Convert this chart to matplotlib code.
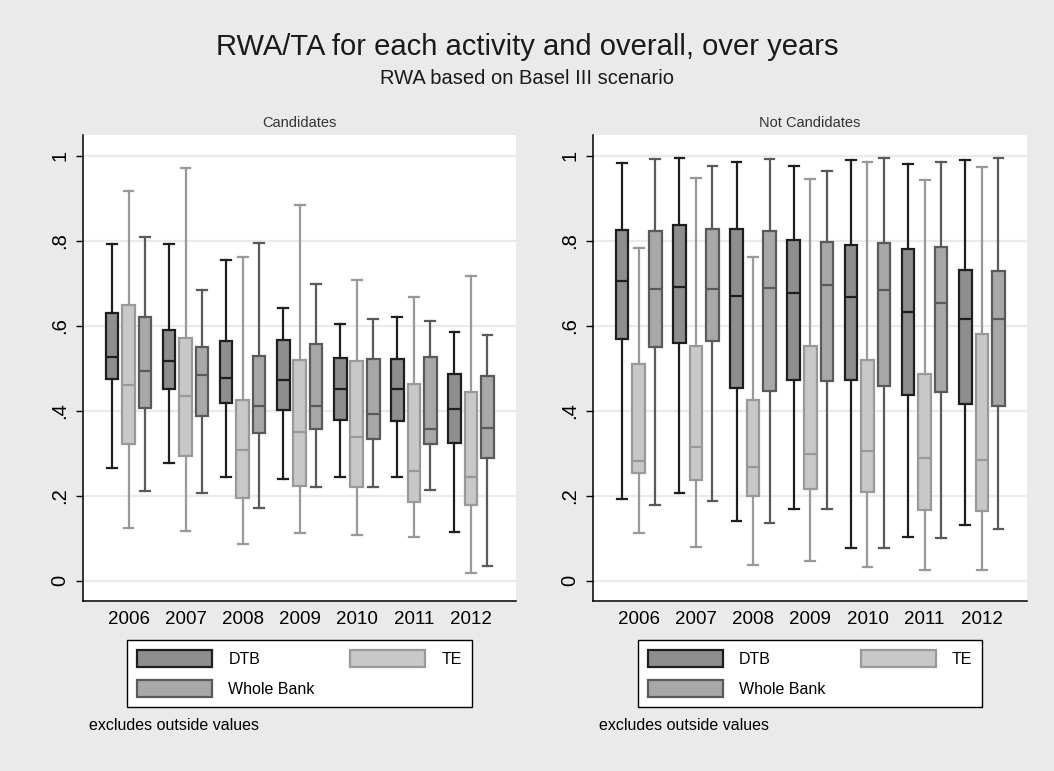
import matplotlib
matplotlib.use('Agg')
import matplotlib.pyplot as plt
from matplotlib.patches import Patch

plt.rcParams['font.family'] = ['Liberation Sans', 'DejaVu Sans']

years = ['2006', '2007', '2008', '2009', '2010', '2011', '2012']
yticks = [0, 0.2, 0.4, 0.6, 0.8, 1.0]
ylabels = ['0', '.2', '.4', '.6', '.8', '1']

# each row: lower whisker, q1, median, q3, upper whisker
cand_dtb = [[0.265, 0.475, 0.527, 0.630, 0.792],
            [0.278, 0.452, 0.516, 0.589, 0.793],
            [0.244, 0.418, 0.476, 0.565, 0.755],
            [0.239, 0.402, 0.473, 0.567, 0.641],
            [0.244, 0.378, 0.450, 0.523, 0.604],
            [0.243, 0.376, 0.450, 0.521, 0.621],
            [0.115, 0.324, 0.403, 0.487, 0.586]]
cand_te = [[0.124, 0.321, 0.461, 0.648, 0.917],
           [0.116, 0.294, 0.435, 0.571, 0.972],
           [0.086, 0.195, 0.308, 0.426, 0.761],
           [0.111, 0.223, 0.351, 0.519, 0.885],
           [0.108, 0.220, 0.339, 0.516, 0.708],
           [0.103, 0.184, 0.259, 0.464, 0.668],
           [0.018, 0.177, 0.243, 0.444, 0.717]]
cand_wb = [[0.210, 0.407, 0.494, 0.621, 0.808],
           [0.207, 0.387, 0.483, 0.550, 0.683],
           [0.170, 0.347, 0.410, 0.529, 0.794],
           [0.220, 0.356, 0.411, 0.558, 0.699],
           [0.220, 0.334, 0.393, 0.521, 0.615],
           [0.213, 0.321, 0.357, 0.527, 0.611],
           [0.034, 0.289, 0.360, 0.481, 0.578]]

notc_dtb = [[0.192, 0.569, 0.706, 0.825, 0.984],
            [0.206, 0.560, 0.691, 0.836, 0.995],
            [0.141, 0.454, 0.670, 0.827, 0.985],
            [0.168, 0.473, 0.678, 0.802, 0.975],
            [0.076, 0.473, 0.667, 0.790, 0.991],
            [0.102, 0.436, 0.633, 0.781, 0.980],
            [0.130, 0.416, 0.615, 0.731, 0.991]]
notc_te = [[0.113, 0.254, 0.282, 0.509, 0.782],
           [0.079, 0.236, 0.314, 0.552, 0.948],
           [0.037, 0.200, 0.268, 0.425, 0.762],
           [0.046, 0.216, 0.297, 0.553, 0.945],
           [0.032, 0.209, 0.306, 0.520, 0.985],
           [0.024, 0.166, 0.288, 0.487, 0.942],
           [0.026, 0.164, 0.285, 0.580, 0.974]]
notc_wb = [[0.177, 0.550, 0.686, 0.823, 0.992],
           [0.188, 0.565, 0.686, 0.827, 0.977],
           [0.136, 0.446, 0.688, 0.823, 0.993],
           [0.168, 0.470, 0.695, 0.797, 0.964],
           [0.076, 0.459, 0.684, 0.794, 0.996],
           [0.100, 0.443, 0.653, 0.786, 0.985],
           [0.122, 0.412, 0.616, 0.729, 0.996]]

series_names = ['DTB', 'TE', 'Whole Bank']
fills = ['#8e8e8e', '#c8c8c8', '#a8a8a8']
edges = ['#1e1e1e', '#999999', '#5a5a5a']
offsets = [-0.289, 0.0, 0.289]
bg = '#eaeaea'


def boxes(ax, data, off, fc, ec):
    stats = []
    for row in data:
        stats.append({'whislo': row[0], 'q1': row[1], 'med': row[2],
                      'q3': row[3], 'whishi': row[4], 'fliers': []})
    pos = [i + off for i in range(len(data))]
    line = dict(color=ec, linewidth=1.6)
    ax.bxp(stats, positions=pos, widths=0.22, capwidths=0.17,
           patch_artist=True, showfliers=False,
           boxprops=dict(facecolor=fc, edgecolor=ec, linewidth=1.6),
           medianprops=line, whiskerprops=line, capprops=line,
           manage_ticks=False)


def panel(ax, groups, title):
    ax.set_facecolor('white')
    for data, off, fc, ec in zip(groups, offsets, fills, edges):
        boxes(ax, data, off, fc, ec)
    ax.set_xlim(-0.8, 6.79)
    ax.set_ylim(-0.048, 1.049)
    ax.set_yticks(yticks)
    ax.set_yticklabels(ylabels, rotation=90, va='center', fontsize=14.5)
    ax.set_xticks(range(len(years)))
    ax.set_xticklabels(years, fontsize=13.5)
    ax.tick_params(axis='x', length=0, pad=7)
    ax.tick_params(axis='y', length=5, width=1, pad=5)
    ax.grid(axis='y', color=bg, linewidth=1.6)
    ax.set_axisbelow(True)
    for s in ['top', 'right']:
        ax.spines[s].set_visible(False)
    for s in ['left', 'bottom']:
        ax.spines[s].set_linewidth(1.1)
    ax.set_title(title, fontsize=10.5, color='#333333', pad=6)


fig = plt.figure(figsize=(10.54, 7.71), dpi=100, facecolor=bg)
ax1 = fig.add_axes([0.0787, 0.2205, 0.4108, 0.6044])
ax2 = fig.add_axes([0.5626, 0.2205, 0.4118, 0.6044])
panel(ax1, [cand_dtb, cand_te, cand_wb], 'Candidates')
panel(ax2, [notc_dtb, notc_te, notc_wb], 'Not Candidates')

handles = [Patch(facecolor=f, edgecolor=e, linewidth=1.6) for f, e in zip(fills, edges)]
order = [0, 2, 1]
for ax in [ax1, ax2]:
    bb = ax.get_position()
    x0 = bb.x0 + (bb.width - 0.3273) / 2
    leg = ax.legend([handles[i] for i in order], [series_names[i] for i in order],
                    ncol=2, mode='expand', loc='lower left',
                    bbox_to_anchor=(x0, 0.083, 0.3273, 0.0869),
                    bbox_transform=fig.transFigure, fontsize=11.5,
                    handlelength=4.7, handleheight=1.25, handletextpad=1.0,
                    labelspacing=0.8, borderpad=0.65, borderaxespad=0,
                    fancybox=False, framealpha=1, edgecolor='black')
    leg.get_frame().set_linewidth(1.0)
    fig.text(bb.x0 + 0.006, 1 - 725 / 771, 'excludes outside values',
             fontsize=11.5, va='center', ha='left')

fig.text(0.5, 1 - 47 / 771, 'RWA/TA for each activity and overall, over years',
         fontsize=21, ha='center', va='center', color='#1a1a1a')
fig.text(0.5, 1 - 79 / 771, 'RWA based on Basel III scenario',
         fontsize=14.5, ha='center', va='center', color='#1a1a1a')

fig.savefig('out.png', dpi=100, facecolor=bg)
